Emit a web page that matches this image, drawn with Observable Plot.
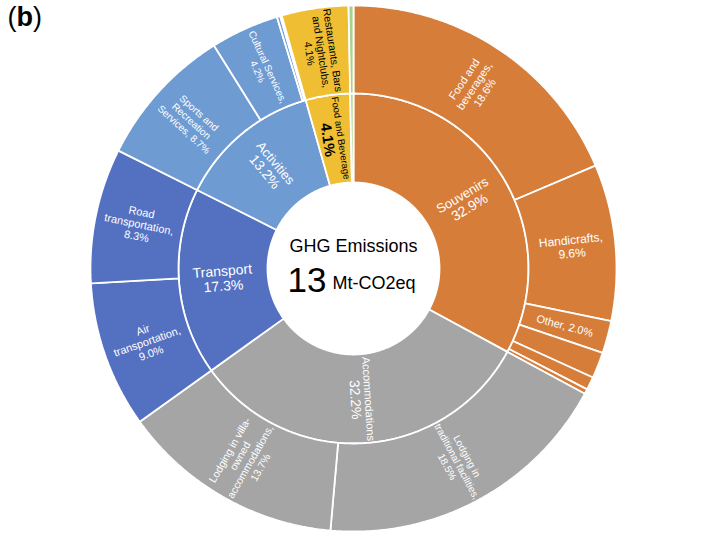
<!DOCTYPE html>
<html><head><meta charset="utf-8">
<script src="https://cdn.jsdelivr.net/npm/d3@7"></script>
<script src="https://cdn.jsdelivr.net/npm/@observablehq/plot@0.6"></script>
<style>body{margin:0;background:#fff}</style>
</head><body><div id="chart"></div>
<script>
// ---- data ----
const panelLabel = ["(", "b", ")"];
const centerTitle = "GHG Emissions";
const totalValue = "13";
const totalUnit = "Mt-CO2eq";

const categories = ["Souvenirs", "Accommodations", "Transport", "Activities", "Food and Beverage", "Other"];
const categoryShares = [32.9, 32.2, 17.3, 13.2, 4.1, 0.3];
const categoryColors = ["#D67D3A", "#A5A5A5", "#5470C1", "#6F9BD3", "#EFBE33", "#A9D08E"];
const categoryShowLabel = [true, true, true, true, true, false];

const subParents = ["Souvenirs","Souvenirs","Souvenirs","Souvenirs","Souvenirs","Souvenirs",
  "Accommodations","Accommodations","Transport","Transport",
  "Activities","Activities","Activities","Activities","Food and Beverage","Other"];
const subNames = ["Food and\nbeverages,\n", "Handicrafts,\n", "Other, ", "", "", "",
  "Lodging in\ntraditional facilities,\n", "Lodging in villa-\nowned\naccommodations,\n",
  "Air\ntransportation,\n", "Road\ntransportation,\n",
  "Sports and\nRecreation\nServices, ", "Cultural Services,\n", "", "",
  "Restaurants, Bars\nand Nightclubs,\n", ""];
const subShares = [18.6, 9.6, 2.0, 1.6, 0.8, 0.3, 18.5, 13.7, 9.0, 8.3, 8.7, 4.2, 0.2, 0.1, 4.1, 0.3];

// ---- layout / styles ----
const W = 708, H = 540, CX = 353, CY = 268;
const R0 = 86, R1 = 175, R2 = 263;
const FONT = "'Liberation Sans', Arial, Helvetica, sans-serif";
const innerStyle = {
  "Souvenirs": {name: 13, pct: 14, gap: 14},
  "Accommodations": {name: 11, pct: 14, gap: 13},
  "Transport": {name: 14, pct: 14, gap: 15},
  "Activities": {name: 13, pct: 14, gap: 14},
  "Food and Beverage": {name: 9.5, pct: 15, gap: 13, dark: true, bold: true}
};
const outerSize = {"Food": 11, "Handicrafts": 12, "Other": 11, "Lodging in\ntrad": 10, "Lodging in villa": 10.5,
  "Air": 11, "Road": 11, "Sports": 10, "Cultural": 10, "Restaurants": 10.5};

const rad = a => a * Math.PI / 180;
const px = (r, a) => r * Math.sin(rad(a));
const py = (r, a) => r * Math.cos(rad(a));
const rot = m => (m < 180 ? m - 90 : m - 270);

function arcPoints(id, a0, a1, r0, r1, color, out) {
  const n = Math.max(2, Math.ceil((a1 - a0) / 0.4));
  const pts = [];
  for (let i = 0; i <= n; i++) { const a = a0 + (a1 - a0) * i / n; pts.push([px(r1, a), py(r1, a)]); }
  for (let i = n; i >= 0; i--) { const a = a0 + (a1 - a0) * i / n; pts.push([px(r0, a), py(r0, a)]); }
  pts.push(pts[0]);
  for (const [x, y] of pts) out.push({id, x, y, color});
}

const polys = [];
const innerLabels = [];
const outerLabels = [];
const catStart = {};
let acc = 0;
categories.forEach((c, i) => {
  const a0 = acc * 3.6, a1 = (acc + categoryShares[i]) * 3.6;
  catStart[c] = acc;
  arcPoints("c" + i, a0, a1, R0, R1, categoryColors[i], polys);
  const m = (a0 + a1) / 2;
  if (categoryShowLabel[i]) {
    const st = innerStyle[c];
    const t = rot(m), nx = -Math.sin(rad(t)), ny = -Math.cos(rad(t));
    const bx = px(131, m), by = py(131, m);
    const col = st.dark ? "black" : "white";
    innerLabels.push({x: bx - st.gap / 2 * nx, y: by - st.gap / 2 * ny, rotate: t, text: c, size: st.name, fill: col, weight: "normal"});
    innerLabels.push({x: bx + st.gap / 2 * nx, y: by + st.gap / 2 * ny, rotate: t, text: categoryShares[i].toFixed(1) + "%", size: st.pct, fill: col, weight: st.bold ? "bold" : "normal"});
  }
  acc += categoryShares[i];
});

const catOffset = {};
subNames.forEach((s, i) => {
  const p = subParents[i];
  const ci = categories.indexOf(p);
  const start = catStart[p] + (catOffset[p] || 0);
  catOffset[p] = (catOffset[p] || 0) + subShares[i];
  const a0 = start * 3.6, a1 = (start + subShares[i]) * 3.6;
  arcPoints("s" + i, a0, a1, R1, R2, categoryColors[ci], polys);
  if (s) {
    const m = (a0 + a1) / 2;
    let size = 11;
    for (const k in outerSize) if (s.startsWith(k)) size = outerSize[k];
    outerLabels.push({x: px(219, m), y: py(219, m), rotate: rot(m),
      text: s + subShares[i].toFixed(1) + "%", size,
      fill: p === "Food and Beverage" ? "black" : "white"});
  }
});

const chart = Plot.plot({
  width: W, height: H,
  margin: 0,
  x: {domain: [-CX, W - CX], range: [0, W], axis: null},
  y: {domain: [CY, CY - H], range: [0, H], axis: null},
  color: {type: "identity"},
  style: {fontFamily: FONT, background: "white"},
  marks: [
    Plot.line(polys, {x: "x", y: "y", z: "id", fill: "color", stroke: "white", strokeWidth: 1.8, curve: "linear", strokeLinejoin: "miter"}),
    Plot.text(innerLabels.filter(d => d.weight === "normal"), {x: "x", y: "y", text: "text", rotate: "rotate", fontSize: "size", fill: "fill", fontFamily: FONT}),
    Plot.text(innerLabels.filter(d => d.weight === "bold"), {x: "x", y: "y", text: "text", rotate: "rotate", fontSize: "size", fill: "fill", fontWeight: "bold", fontFamily: FONT}),
    Plot.text(outerLabels, {x: "x", y: "y", text: "text", rotate: "rotate", fontSize: "size", fill: "fill", lineHeight: 1.12, fontFamily: FONT}),
    Plot.text([centerTitle], {x: 0, y: 0, dy: -22, text: d => d, fontSize: 18, fill: "black", fontFamily: FONT}),
    Plot.text([totalValue], {x: 0, y: 0, dx: -27, dy: 12, text: d => d, fontSize: 35, textAnchor: "end", fill: "black", fontFamily: FONT}),
    Plot.text([totalUnit], {x: 0, y: 0, dx: -21, dy: 15, text: d => d, fontSize: 18, textAnchor: "start", fill: "black", fontFamily: FONT}),
    Plot.text([panelLabel[0]], {frameAnchor: "top-left", dx: 7, dy: 6, text: d => d, fontSize: 27, textAnchor: "start", lineAnchor: "top", fill: "black", fontFamily: FONT}),
    Plot.text([panelLabel[1]], {frameAnchor: "top-left", dx: 16, dy: 6, text: d => d, fontSize: 27, fontWeight: "bold", textAnchor: "start", lineAnchor: "top", fill: "black", fontFamily: FONT}),
    Plot.text([panelLabel[2]], {frameAnchor: "top-left", dx: 32.5, dy: 6, text: d => d, fontSize: 27, textAnchor: "start", lineAnchor: "top", fill: "black", fontFamily: FONT})
  ]
});
document.getElementById("chart").appendChild(chart);
</script></body></html>
